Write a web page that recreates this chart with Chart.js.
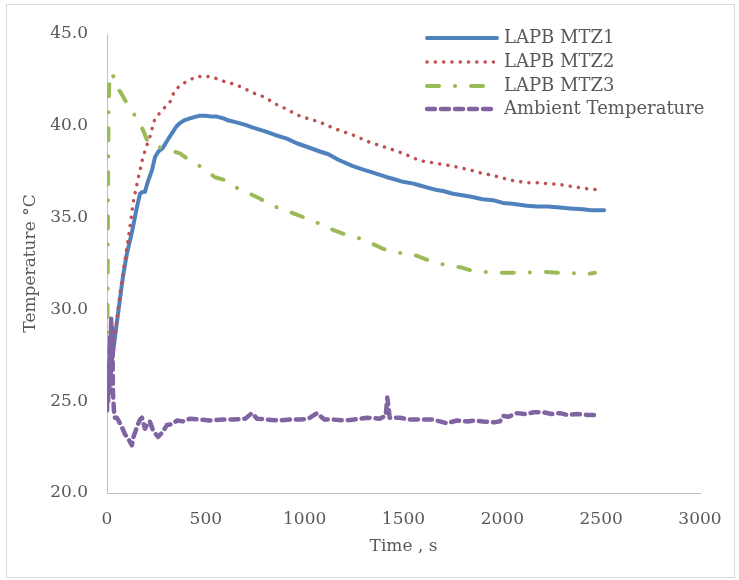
<!DOCTYPE html>
<html>
<head>
<meta charset="utf-8">
<title>LAPB temperature</title>
<script src="https://cdn.jsdelivr.net/npm/chart.js@4.4.1/dist/chart.umd.min.js"></script>
<style>
  html, body { margin: 0; padding: 0; background: #fff; }
  canvas { display: block; }
</style>
</head>
<body>
<canvas id="canvas_temp" width="739" height="580"></canvas>
<script>
// Temperature readings, time in seconds
const time_mtz1 = [15, 30, 50, 81, 100, 126, 150, 167, 180, 192, 205, 228, 243, 260, 283, 305, 329, 350, 369, 390, 420, 450, 470, 500, 530, 556, 590, 612, 650, 700, 739, 800, 850, 910, 960, 1000, 1077, 1120, 1170, 1244, 1300, 1330, 1416, 1450, 1498, 1550, 1583, 1669, 1700, 1750, 1836, 1900, 1952, 2003, 2050, 2124, 2175, 2230, 2291, 2342, 2408, 2450, 2480, 2515];
const temp_mtz1 = [26.5, 27.6, 29.3, 31.8, 33.0, 34.2, 35.5, 36.3, 36.4, 36.4, 36.9, 37.6, 38.3, 38.6, 38.8, 39.2, 39.6, 39.95, 40.15, 40.3, 40.4, 40.5, 40.55, 40.55, 40.5, 40.5, 40.4, 40.3, 40.2, 40.05, 39.9, 39.7, 39.5, 39.3, 39.05, 38.9, 38.6, 38.45, 38.15, 37.8, 37.6, 37.5, 37.2, 37.1, 36.95, 36.85, 36.75, 36.5, 36.45, 36.3, 36.15, 36.0, 35.95, 35.8, 35.75, 35.65, 35.6, 35.6, 35.55, 35.5, 35.45, 35.4, 35.4, 35.4];

const time_mtz2 = [20, 40, 60, 81, 100, 116, 132, 157, 182, 200, 217, 243, 283, 319, 344, 384, 420, 455, 490, 521, 560, 597, 650, 700, 739, 800, 850, 910, 960, 1000, 1077, 1150, 1244, 1330, 1416, 1498, 1583, 1669, 1750, 1836, 1900, 1952, 2003, 2060, 2124, 2175, 2230, 2291, 2350, 2408, 2450, 2494];
const temp_mtz2 = [26.5, 28.5, 30.4, 32.0, 33.3, 34.5, 35.8, 37.1, 38.3, 38.9, 39.4, 40.4, 40.9, 41.3, 41.95, 42.3, 42.5, 42.7, 42.65, 42.7, 42.55, 42.4, 42.25, 42.0, 41.8, 41.55, 41.2, 40.9, 40.6, 40.45, 40.2, 39.85, 39.5, 39.1, 38.8, 38.5, 38.1, 37.95, 37.8, 37.6, 37.4, 37.3, 37.15, 37.0, 36.9, 36.9, 36.85, 36.8, 36.7, 36.6, 36.55, 36.5];

const time_mtz3 = [0, 2, 4, 6, 8, 12, 20, 25, 35, 50, 70, 91, 120, 157, 185, 207, 240, 278, 320, 369, 420, 470, 510, 546, 612, 660, 723, 780, 824, 900, 976, 1030, 1093, 1150, 1214, 1300, 1396, 1460, 1548, 1620, 1700, 1786, 1850, 1952, 2050, 2124, 2200, 2280, 2342, 2418, 2468];
const temp_mtz3 = [24.8, 28.0, 33.0, 38.0, 41.0, 42.5, 42.8, 42.9, 42.6, 42.1, 41.8, 41.4, 40.9, 40.3, 39.7, 39.1, 38.9, 38.8, 38.65, 38.5, 38.1, 37.8, 37.5, 37.2, 37.0, 36.6, 36.3, 36.0, 35.7, 35.4, 35.1, 34.85, 34.6, 34.3, 34.05, 33.8, 33.3, 33.1, 33.0, 32.7, 32.45, 32.3, 32.1, 32.0, 32.0, 32.0, 32.05, 32.0, 32.0, 31.9, 32.0];

const time_amb = [0, 3, 6, 9, 12, 15, 18, 21, 24, 27, 30, 35, 40, 50, 60, 75, 91, 110, 126, 132, 142, 155, 167, 177, 192, 207, 217, 233, 258, 280, 303, 330, 354, 384, 420, 470, 520, 587, 637, 700, 733, 759, 809, 870, 926, 976, 1020, 1062, 1100, 1143, 1200, 1250, 1315, 1380, 1410, 1418, 1425, 1430, 1482, 1530, 1568, 1649, 1720, 1770, 1821, 1860, 1902, 1960, 1988, 2003, 2030, 2074, 2120, 2160, 2205, 2250, 2291, 2330, 2377, 2430, 2478];
const temp_amb = [24.5, 26.5, 25.0, 27.0, 25.5, 28.5, 26.0, 29.5, 27.5, 29.0, 25.5, 24.5, 24.1, 24.1, 23.9, 23.6, 23.2, 22.9, 22.6, 23.0, 23.3, 23.7, 24.0, 24.1, 23.5, 23.8, 23.9, 23.4, 23.05, 23.3, 23.7, 23.75, 23.95, 23.9, 24.05, 24.0, 23.95, 24.0, 24.0, 24.05, 24.35, 24.05, 24.0, 23.95, 24.0, 24.0, 24.05, 24.35, 24.0, 24.0, 23.95, 24.0, 24.1, 24.05, 24.2, 25.2, 24.6, 24.1, 24.1, 24.0, 24.0, 24.0, 23.8, 23.95, 23.9, 23.95, 23.9, 23.85, 23.9, 24.2, 24.15, 24.35, 24.3, 24.4, 24.4, 24.3, 24.35, 24.25, 24.3, 24.25, 24.25];

const series_labels = ['LAPB MTZ1', 'LAPB MTZ2', 'LAPB MTZ3', 'Ambient Temperature'];
const x_ticks = [0, 500, 1000, 1500, 2000, 2500, 3000];
const y_ticks = [20, 25, 30, 35, 40, 45];

const toPoints = (xs, ys) => xs.map((x, i) => ({ x: x, y: ys[i] }));

const textColor = '#595959';
Chart.defaults.font.family = "'DejaVu Serif', serif";
Chart.defaults.color = textColor;

// white page with a thin frame round it
const framePlugin = {
  id: 'frame',
  beforeDraw(chart) {
    const ctx = chart.ctx;
    ctx.save();
    ctx.fillStyle = '#fff';
    ctx.fillRect(0, 0, chart.width, chart.height);
    ctx.strokeStyle = '#D9D9D9';
    ctx.lineWidth = 1;
    ctx.strokeRect(6.5, 4.5, 728, 573);
    ctx.restore();
  }
};

// legend with line samples, top right inside the plot
const lineLegend = {
  id: 'lineLegend',
  afterDraw(chart) {
    const ctx = chart.ctx;
    const x0 = 427, x1 = 497, textX = 504;
    const rows = [38, 62, 86, 109];
    ctx.save();
    series_labels.forEach((label, i) => {
      const ds = chart.data.datasets[i];
      ctx.beginPath();
      ctx.strokeStyle = ds.borderColor;
      ctx.lineWidth = ds.borderWidth;
      ctx.lineCap = ds.borderCapStyle || 'butt';
      ctx.setLineDash(ds.borderDash || []);
      ctx.moveTo(x0, rows[i]);
      ctx.lineTo(x1, rows[i]);
      ctx.stroke();
      ctx.setLineDash([]);
      ctx.fillStyle = textColor;
      ctx.font = "18px 'DejaVu Serif', serif";
      ctx.textBaseline = 'middle';
      ctx.textAlign = 'left';
      ctx.fillText(label, textX, rows[i]);
    });
    ctx.restore();
  }
};

const data_temp = {
  datasets: [
    {
      label: series_labels[0],
      data: toPoints(time_mtz1, temp_mtz1),
      borderColor: '#4F81BD',
      borderWidth: 4,
      borderCapStyle: 'round',
      order: 3,
    },
    {
      label: series_labels[1],
      data: toPoints(time_mtz2, temp_mtz2),
      borderColor: '#C0504D',
      borderWidth: 3.5,
      borderCapStyle: 'round',
      borderDash: [0.1, 8.2],
      order: 2,
    },
    {
      label: series_labels[2],
      data: toPoints(time_mtz3, temp_mtz3),
      borderColor: '#9BBB59',
      borderWidth: 4,
      borderCapStyle: 'round',
      borderDash: [12, 16, 0.1, 16],
      order: 1,
    },
    {
      label: series_labels[3],
      data: toPoints(time_amb, temp_amb),
      borderColor: '#8064A2',
      borderWidth: 4.5,
      borderCapStyle: 'round',
      borderDash: [8, 6],
      order: 0,
    },
  ],
};

const config_temp = {
  type: 'line',
  data: data_temp,
  options: {
    responsive: false,
    animation: false,
    events: [],
    layout: { padding: { left: 0, top: 34, right: 39, bottom: 0 } },
    elements: {
      point: { radius: 0 },
      line: { tension: 0, fill: false, borderJoinStyle: 'round' },
    },
    plugins: {
      legend: { display: false },
      tooltip: { enabled: false },
    },
    scales: {
      x: {
        type: 'linear',
        min: 0,
        max: 3000,
        afterFit: s => { s.height = 87; },
        afterBuildTicks: s => { s.ticks = x_ticks.map(v => ({ value: v })); },
        grid: { display: false, drawTicks: false },
        border: { display: true, color: '#BFBFBF', width: 1 },
        ticks: { padding: 16, font: { size: 17 }, color: textColor, maxRotation: 0, callback: v => String(v) },
        title: { display: true, text: 'Time , s', font: { size: 17 }, color: textColor, padding: { top: 0, bottom: 23 } },
      },
      y: {
        min: 20,
        max: 45,
        afterFit: s => { s.width = 107; },
        afterBuildTicks: s => { s.ticks = y_ticks.map(v => ({ value: v })); },
        grid: { display: false, drawTicks: false },
        border: { display: true, color: '#BFBFBF', width: 1 },
        ticks: { padding: 19, font: { size: 17 }, color: textColor, callback: v => v.toFixed(1) },
        title: { display: true, text: 'Temperature °C', font: { size: 17 }, color: textColor, padding: { top: 20, bottom: 0 } },
      },
    },
  },
  plugins: [framePlugin, lineLegend],
};

const canvas_temp = document.getElementById('canvas_temp');
const chart_temp = new Chart(canvas_temp, config_temp);
</script>
</body>
</html>
